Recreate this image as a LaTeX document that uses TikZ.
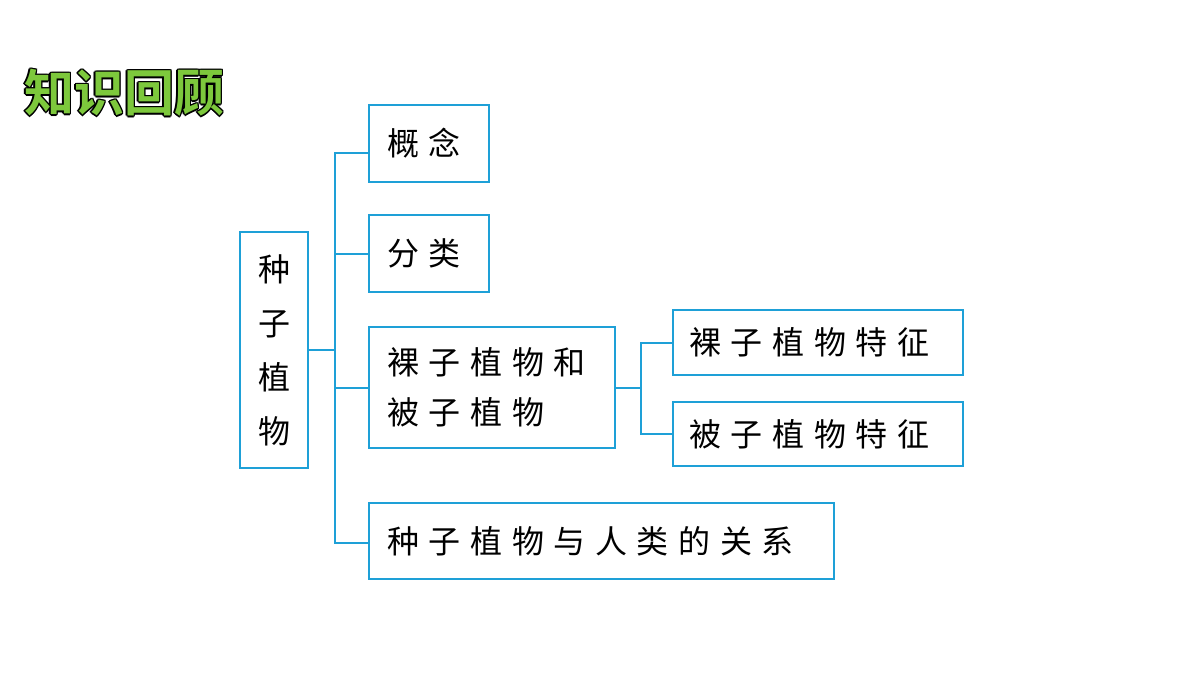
\documentclass[tikz,border=0pt]{standalone}
\usepackage{fontspec}
\newfontfamily\cjk[LetterSpace=30]{Noto Sans CJK SC}
\newfontfamily\cjkb{Noto Sans CJK SC Bold}
\definecolor{ln}{RGB}{30,160,215}
\definecolor{tg}{RGB}{125,200,60}
\begin{document}
\begin{tikzpicture}[x=0.5pt,y=-0.5pt,
  box/.style={draw=ln,line width=1pt,inner sep=0pt},
  txt/.style={anchor=west,inner sep=0pt,font=\cjk\fontsize{16}{25}\selectfont,align=left},
  conn/.style={draw=ln,line width=1pt}]
\useasboundingbox (0,0) rectangle (1200,675);
\fill[white] (0,0) rectangle (1200,675);
% title
\foreach \dx/\dy in {-1.5/0,1.5/0,0/-1.5,0/1.5,-1.1/-1.1,1.1/1.1,-1.1/1.1,1.1/-1.1}
  \node[font=\cjkb\fontsize{25}{28}\selectfont,text=black,anchor=west,inner sep=0pt] at (24+\dx,93+\dy) {知识回顾};
\node (title)[font=\cjkb\fontsize{25}{28}\selectfont,text=tg,anchor=west,inner sep=0pt] at (24,93) {知识回顾};
% boxes
\node (root)[box,minimum width=34pt,minimum height=118pt] at (274,350) {};
\node (a)[box,minimum width=60pt,minimum height=38.5pt] at (429,143.5) {};
\node (b)[box,minimum width=60pt,minimum height=38.5pt] at (429,253.5) {};
\node (c)[box,minimum width=123pt,minimum height=60.5pt] at (492,387.5) {};
\node (d)[box,minimum width=145pt,minimum height=32.5pt] at (818,342.5) {};
\node (e)[box,minimum width=145pt,minimum height=32pt] at (818,434) {};
\node (f)[box,minimum width=232.5pt,minimum height=38pt] at (601.5,541) {};
% texts
\node (rt)[txt,anchor=center,align=center,font=\cjk\fontsize{16}{27}\selectfont] at (root.center) {种\\子\\植\\物};
\node (at)[txt] at (387,143) {概念};
\node (bt)[txt] at (387,253) {分类};
\node (ct)[txt] at (387,387) {裸子植物和\\被子植物};
\node (dt)[txt] at (689,342) {裸子植物特征};
\node (et)[txt] at (689,434) {被子植物特征};
\node (ft)[txt] at (387,541) {种子植物与人类的关系};
% connectors
\coordinate (t1) at (335,350);
\coordinate (t2) at (641,387.5);
\coordinate (ya) at (369,153);
\coordinate (yf) at (369,543);
\draw[conn] (root.east) -- (t1);
\draw[conn] (ya) -| (t1);
\draw[conn] (yf) -| (t1);
\draw[conn] (b.west) -- (b.west -| t1);
\draw[conn] (c.west) -- (c.west -| t1);
\draw[conn] (c.east) -- (t2);
\draw[conn] (d.west) -| (t2);
\draw[conn] (e.west) -| (t2);
\end{tikzpicture}
\end{document}
